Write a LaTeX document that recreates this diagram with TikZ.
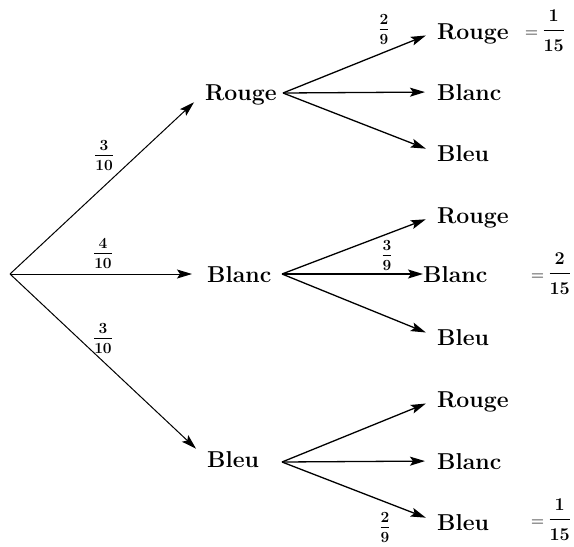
\documentclass[tikz,border=0pt]{standalone}
\usetikzlibrary{arrows.meta}
\setlength\arrayrulewidth{0.8pt}
\newcommand\frc[3][0.25em]{\begin{tabular}{@{}c@{}}\rule[-#1]{0pt}{0.8em}#2\\\hline\rule{0pt}{\dimexpr 0.7em+#1\relax}#3\end{tabular}}
\begin{document}
\begin{tikzpicture}[x=1pt,y=-1pt,
  lbl/.style={anchor=base west,inner sep=0pt,text height=16pt,text depth=0pt,font=\fontsize{23}{26}\selectfont\bfseries},
  pr/.style={inner sep=0pt,font=\fontsize{15.5}{15.5}\selectfont\bfseries},
  res/.style={anchor=west,inner sep=0pt,font=\fontsize{18}{18}\selectfont},
  br1/.style={line width=1pt,-{Stealth[length=15pt,width=9pt,inset=3pt]},shorten >=15pt},
  br2/.style={line width=1.3pt,-{Stealth[length=15pt,width=9pt,inset=3pt]},shorten >=12pt}
]
\useasboundingbox (0,0) rectangle (574,547);
% root and forks
\coordinate (root) at (10,274);
\coordinate (fR) at (283,93);
\coordinate (fB) at (282,274);
\coordinate (fU) at (282,462);
% level 1 labels
\node[lbl] (R1) at (205,100) {Rouge};
\node[lbl] (B1) at (207,282) {Blanc};
\node[lbl] (U1) at (207,467) {Bleu};
% level 2 labels
\node[lbl] (RR) at (437,39) {Rouge};
\node[lbl] (RB) at (437,100) {Blanc};
\node[lbl] (RU) at (437,161) {Bleu};
\node[lbl] (BR) at (437,223) {Rouge};
\node[lbl] (BB) at (423,282) {Blanc};
\node[lbl] (BU) at (437,345) {Bleu};
\node[lbl] (UR) at (437,407) {Rouge};
\node[lbl] (UB) at (437,469) {Blanc};
\node[lbl] (UU) at (437,530) {Bleu};
% level 1 branches
\draw[br1] (root) -- (R1.west);
\draw[br1] (root) -- (B1.west);
\draw[br1] (root) -- (U1.west);
% level 2 branches
\draw[br2] (fR) -- (RR.west);
\draw[br2] (fR) -- (RB.west);
\draw[br2] (fR) -- (RU.west);
\draw[br2] (fB) -- (BR.west);
\draw[br2,shorten >=0pt] (fB) -- (BB.west);
\draw[br2] (fB) -- (BU.west);
\draw[br2] (fU) -- (UR.west);
\draw[br2] (fU) -- (UB.west);
\draw[br2] (fU) -- (UU.west);
% probabilities
\node[pr] (p1) at (104,157) {\frc{3}{10}};
\node[pr] (p2) at (103,255) {\frc{4}{10}};
\node[pr] (p3) at (103,340) {\frc{3}{10}};
\node[pr] (p4) at (384,31) {\frc{2}{9}};
\node[pr] (p5) at (387,257) {\frc{3}{9}};
\node[pr] (p6) at (385,529) {\frc{2}{9}};
% results
\node[res] (r1) at (525,33) {= \frc[0.45em]{\textbf{1}}{\textbf{15}}};
\node[res] (r2) at (531,276) {= \frc[0.45em]{\textbf{2}}{\textbf{15}}};
\node[res] (r3) at (531,522) {= \frc[0.45em]{\textbf{1}}{\textbf{15}}};
\end{tikzpicture}
\end{document}
